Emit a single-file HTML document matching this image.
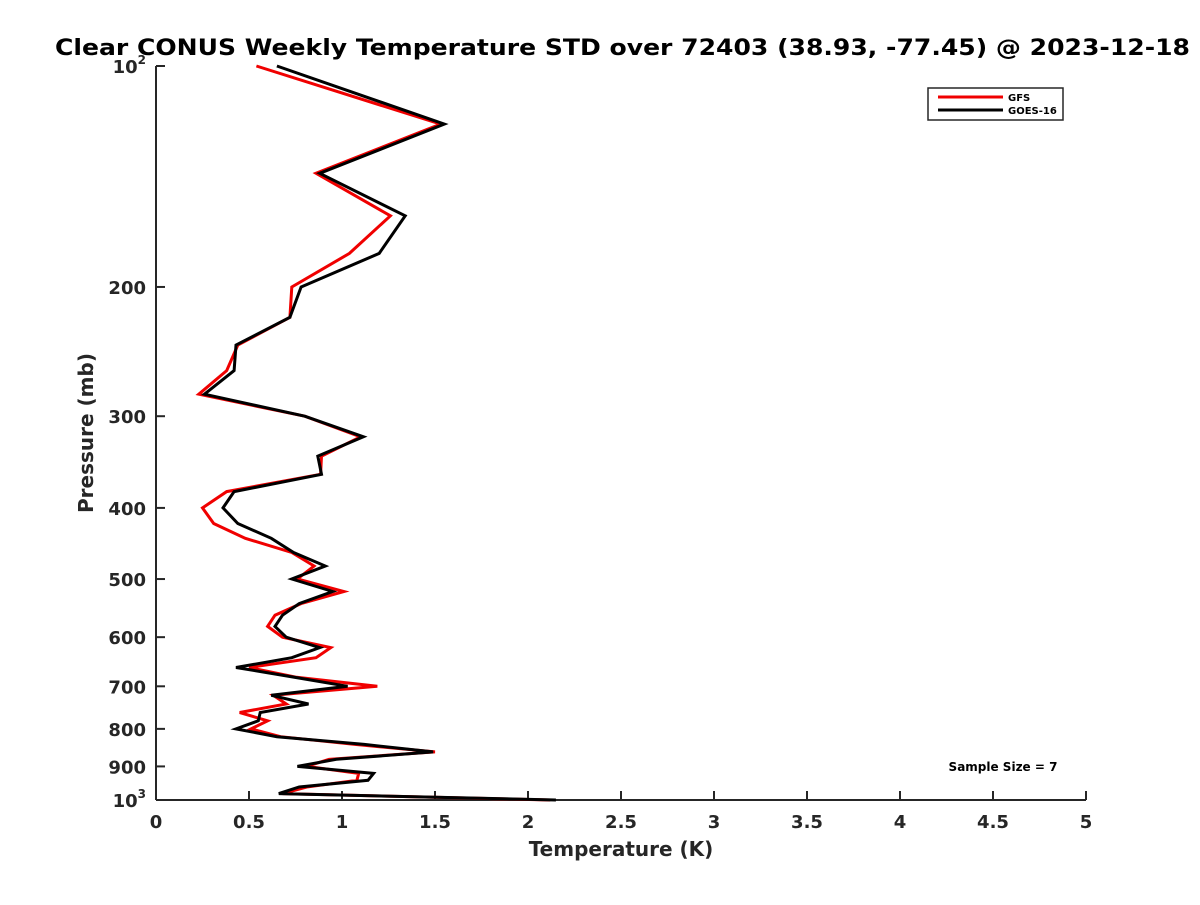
<!DOCTYPE html>
<html><head><meta charset="utf-8"><style>
body{margin:0;background:#fff;}
svg text{font-family:"DejaVu Sans","Liberation Sans",sans-serif;font-weight:bold;fill:#262626;}
</style></head><body>
<svg id="chart" width="1200" height="900" xmlns="http://www.w3.org/2000/svg">
<rect width="1200" height="900" fill="#fff"/>
<text x="55" y="55" font-size="22" textLength="1135" lengthAdjust="spacingAndGlyphs" style="fill:#000">Clear CONUS Weekly Temperature STD over 72403 (38.93, -77.45) @ 2023-12-18</text>
<g id="axes"></g>
<g id="series"></g>
<text x="621" y="856" font-size="20" text-anchor="middle">Temperature (K)</text>
<text transform="translate(93,433) rotate(-90)" font-size="20" text-anchor="middle">Pressure (mb)</text>
<g>
<rect x="928" y="88" width="135" height="32" fill="#fff" stroke="#262626" stroke-width="1.5"/>
<line x1="938" y1="97" x2="1003" y2="97" stroke="#f00000" stroke-width="3"/>
<text x="1008" y="101" font-size="10" style="fill:#000">GFS</text>
<line x1="938" y1="110" x2="1003" y2="110" stroke="#000" stroke-width="3"/>
<text x="1008" y="114" font-size="10" style="fill:#000">GOES-16</text>
</g>
<text x="1003" y="771" font-size="12" text-anchor="middle" style="fill:#000">Sample Size = 7</text>
</svg>
<script>
const pressures=[100,120,140,160,180,200,220,240,260,280,300,320,340,360,380,400,420,440,460,480,500,520,540,560,580,600,620,640,660,680,700,720,740,760,780,800,820,840,860,880,900,920,940,960,980,1000];
const gfsValues=[0.54,1.53,0.86,1.26,1.04,0.73,0.72,0.44,0.38,0.23,0.80,1.10,0.89,0.885,0.38,0.25,0.31,0.48,0.73,0.85,0.76,1.01,0.78,0.64,0.60,0.68,0.94,0.86,0.50,0.75,1.19,0.63,0.70,0.45,0.60,0.51,0.67,1.07,1.50,0.93,0.81,1.09,1.08,0.81,0.68,2.12];
const goesValues=[0.65,1.55,0.88,1.34,1.20,0.78,0.72,0.43,0.42,0.26,0.80,1.115,0.87,0.89,0.42,0.36,0.44,0.62,0.74,0.91,0.73,0.95,0.77,0.68,0.64,0.70,0.88,0.73,0.43,0.74,1.03,0.62,0.82,0.56,0.55,0.43,0.65,1.12,1.49,0.97,0.76,1.17,1.14,0.77,0.66,2.15];
const xTicks=[0,0.5,1,1.5,2,2.5,3,3.5,4,4.5,5];
const xTickLabels=["0","0.5","1","1.5","2","2.5","3","3.5","4","4.5","5"];
const yTicks=[100,200,300,400,500,600,700,800,900,1000];
const yTickLabels=["10^2","200","300","400","500","600","700","800","900","10^3"];
const X0=156,X1=1086,Y0=66,Y1=800;
function xs(v){return X0+(v/5)*(X1-X0);}
function ys(p){return Y0+Math.log10(p/100)*(Y1-Y0);}
const NS="http://www.w3.org/2000/svg";
const axes=document.getElementById('axes');
function mk(t,a,parent){const e=document.createElementNS(NS,t);for(const k in a)e.setAttribute(k,a[k]);parent.appendChild(e);return e;}
const yAxis=mk('line',{x1:X0,y1:Y0,x2:X0,y2:Y1,stroke:'#262626','stroke-width':2},axes);


const xAxis=mk('line',{x1:X0,y1:Y1,x2:X1,y2:Y1,stroke:'#262626','stroke-width':2},axes);


xTicks.forEach((v,i)=>{
  const x=xs(v);
  mk('line',{x1:x,y1:Y1,x2:x,y2:Y1-9,stroke:'#262626','stroke-width':2},axes);
  const t=mk('text',{x:x,y:Y1+28,'font-size':18,'text-anchor':'middle'},axes);
  t.textContent=xTickLabels[i];
  
  
});
yTicks.forEach((p,i)=>{
  const y=ys(p);
  mk('line',{x1:X0,y1:y,x2:X0+9,y2:y,stroke:'#262626','stroke-width':2},axes);
  const t=mk('text',{x:X0-10,y:y+7,'font-size':18,'text-anchor':'end'},axes);
  const lbl=yTickLabels[i];
  if(lbl.indexOf('^')>0){
    const parts=lbl.split('^');
    t.textContent=parts[0];
    const s=mk('tspan',{dy:-9,'font-size':12},t);
    s.textContent=parts[1];
  } else t.textContent=lbl;
  
  
});
const series=document.getElementById('series');
function drawLine(vals,color,name){
  const pts=vals.map((v,i)=>xs(v).toFixed(1)+','+ys(pressures[i]).toFixed(1)).join(' ');
  const pl=mk('polyline',{points:pts,fill:'none',stroke:color,'stroke-width':3,'stroke-linejoin':'miter'},series);
  
  
}
drawLine(gfsValues,'#f00000','gfs-line');
drawLine(goesValues,'#000000','goes16-line');
</script>
</body></html>
